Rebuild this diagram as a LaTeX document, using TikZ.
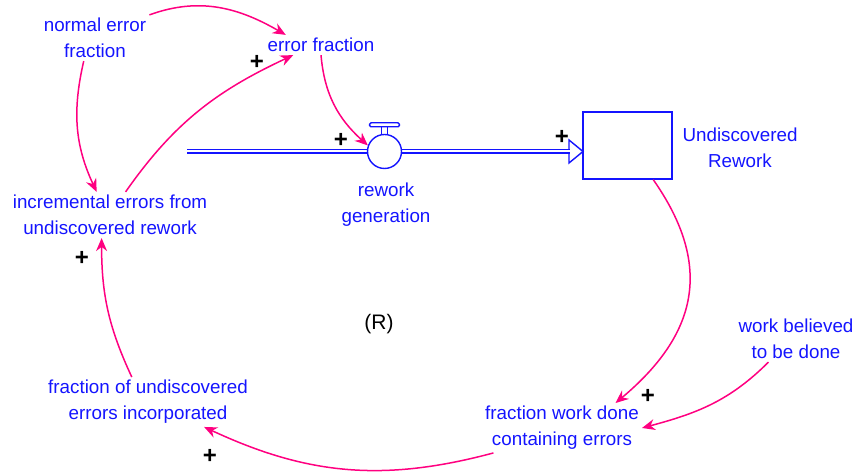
\documentclass[tikz,border=0pt]{standalone}
\usepackage{fontspec}
\setmainfont{Liberation Sans}
\usepackage{xcolor}
\usepackage{tikz}
\usetikzlibrary{arrows.meta,calc}
\definecolor{vblue}{RGB}{20,20,255}
\definecolor{vpink}{RGB}{255,0,128}
\tikzset{
  var/.style={text=vblue,align=center,inner sep=3pt,font=\fontsize{18.8}{26}\selectfont},
  link/.style={vpink,line width=1.5pt,-{Stealth[length=13pt,width=11pt]}},
  pol/.style={font=\fontsize{24}{24}\selectfont\bfseries,inner sep=0pt},
  pipe/.style={draw=vblue,double=white,double distance=2pt,line width=1.5pt},
  stockbox/.style={draw=vblue,line width=1.4pt,minimum width=89pt,minimum height=67pt,inner sep=0pt},
  valvebox/.style={circle,draw=vblue,line width=1.4pt,fill=white,minimum size=34pt,inner sep=0pt}
}

\begin{document}
\begin{tikzpicture}[x=1pt,y=1pt]
\useasboundingbox (0,0) rectangle (857,473);
% auxiliary variables
\node[var] (nef) at (95,435) {normal error\\fraction};
\node[var] (ef) at (321,428) {error fraction};
\node[var] (ier) at (110,258) {incremental errors from\\undiscovered rework};
\node[var] (wbd) at (796,134) {work believed\\to be done};
\node[var] (fwd) at (562,45) {fraction work done\\containing errors};
\node[var] (fue) at (148,71) {fraction of undiscovered\\errors incorporated};
\node[var,text=black,font=\fontsize{21}{21}\selectfont] (loop) at (379,149) {(R)};
% stock and flow
\node[stockbox] (stock) at (627.5,327.5) {};
\node[var] (ur) at (740,325) {Undiscovered\\Rework};
\coordinate (src) at (187,321.5);
\coordinate (tip) at (583,321.5);
\draw[vblue,line width=1.4pt,fill=white] (tip) -- ++(-14,11.5) -- ++(0,-23) -- cycle;
\draw[pipe] (src) -- (tip -| 384.5,0) coordinate (vc);
\draw[pipe] (vc) -- ($(tip)+(-13,0)$);
\node[valvebox] (valve) at (vc) {};
\draw[vblue,line width=1.4pt] ($(valve.north)+(-3,0)$) -- ++(0,7) ($(valve.north)+(3,0)$) -- ++(0,7);
\draw[vblue,line width=1.4pt,rounded corners=1.5pt,fill=white] ($(valve.north)+(-15,7)$) rectangle ($(valve.north)+(15,11)$);
\node[var] (rg) at (386,268) {rework\\generation};
% causal links
\draw[link] (nef.north east) to[out=20,in=150] (ef.164);
\draw[link] (nef.244) to[out=257,in=115] (ier.120);
\draw[link] (ier.56) to[out=55,in=205] (ef.200);
\draw[link] (ef.south) to[out=-85,in=138] (valve.160);
\draw[link] (stock.307) to[out=-55,in=40,looseness=1.2] (fwd.25);
\draw[link] (wbd.220) to[out=225,in=15] (fwd.east);
\draw[link] (fwd.200) to[out=195,in=-25] (fue.336);
\draw[link] (fue.123) to[out=115,in=-90] (ier.250);
% polarities
\node[pol] (p1) at (257,411) {+};
\node[pol] (p2) at (341,333) {+};
\node[pol] (p3) at (562,336) {+};
\node[pol] (p4) at (82,215) {+};
\node[pol] (p5) at (648,77) {+};
\node[pol] (p6) at (210,17) {+};
\end{tikzpicture}
\end{document}
